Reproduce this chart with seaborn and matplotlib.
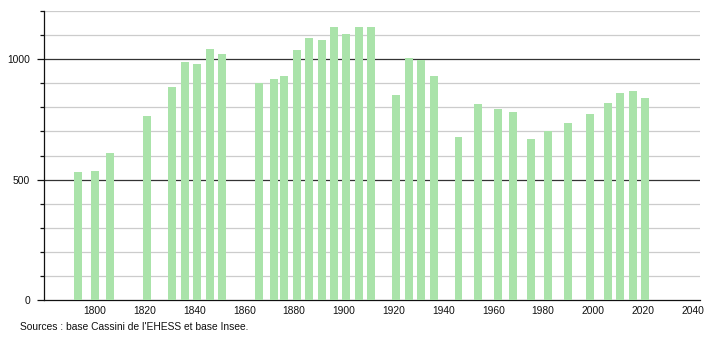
import matplotlib
matplotlib.use("Agg")
import matplotlib.pyplot as plt
import seaborn as sns
import pandas as pd
from matplotlib.ticker import MultipleLocator, FixedLocator

years = [1793, 1800, 1806, 1821, 1831, 1836, 1841, 1846, 1851,
         1866, 1872, 1876, 1881, 1886, 1891, 1896, 1901, 1906, 1911,
         1921, 1926, 1931, 1936, 1946, 1954, 1962, 1968, 1975, 1982,
         1990, 1999, 2006, 2011, 2016, 2021]
population = [533, 536, 611, 762, 885, 989, 980, 1043, 1022,
              900, 917, 931, 1039, 1089, 1080, 1133, 1105, 1134, 1134,
              852, 1005, 998, 931, 678, 814, 795, 782, 667, 701,
              734, 773, 817, 860, 868, 839]
x_ticks = [1800, 1820, 1840, 1860, 1880, 1900, 1920, 1940, 1960, 1980, 2000, 2020, 2040]
y_ticks = [0, 500, 1000]
source_text = "Sources : base Cassini de l'EHESS et base Insee."

df = pd.DataFrame({"year": years, "population": population})

sns.set_style("white")
plt.rcParams["font.family"] = ["Liberation Sans", "DejaVu Sans"]

fig = plt.figure(figsize=(7.1, 3.4), dpi=100)
ax = fig.add_axes([44 / 710, 1 - 300 / 340, (700 - 44) / 710, (300 - 11) / 340])

sns.barplot(data=df, x="year", y="population", native_scale=True, width=0.8,
            color="#aae3aa", saturation=1, linewidth=0, ax=ax, zorder=3)

ax.set_xlim(1779.5, 2043)
ax.set_ylim(0, 1200)

# gridlines
for v in range(100, 1201, 100):
    if v % 500 == 0:
        ax.axhline(v, color="#333333", lw=0.9, zorder=1)
    else:
        ax.axhline(v, color="#cccccc", lw=0.9, zorder=1)

ax.xaxis.set_major_locator(FixedLocator(x_ticks))
ax.set_xticklabels([str(t) for t in x_ticks])
ax.yaxis.set_major_locator(FixedLocator(y_ticks))
ax.yaxis.set_minor_locator(MultipleLocator(100))
ax.set_yticklabels([str(t) for t in y_ticks])

ax.tick_params(axis="x", bottom=False, length=0, pad=4, labelsize=7.4, colors="#111111")
ax.tick_params(axis="y", which="major", left=True, length=5, width=0.9, pad=5, labelsize=7.4,
               colors="#111111", direction="out")
ax.tick_params(axis="y", which="minor", left=True, length=3, width=0.9, direction="out",
               color="#111111")

for side in ["top", "right"]:
    ax.spines[side].set_visible(False)
for side in ["left", "bottom"]:
    ax.spines[side].set_color("#111111")
    ax.spines[side].set_linewidth(0.9)

ax.set_xlabel("")
ax.set_ylabel("")

fig.text(20 / 710, 1 - 327 / 340, source_text, fontsize=7.4, color="#111111",
         ha="left", va="center")

fig.savefig("out.png", dpi=100)
